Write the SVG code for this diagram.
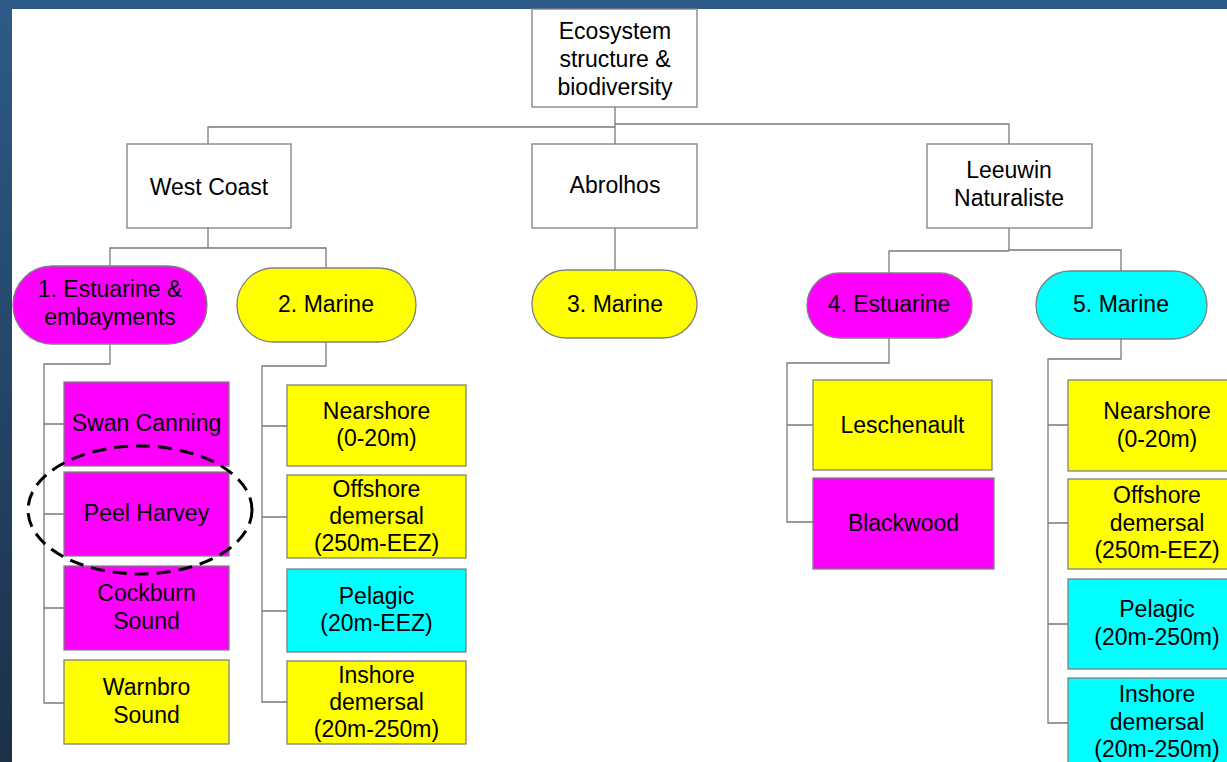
<svg xmlns="http://www.w3.org/2000/svg" width="1227" height="762" viewBox="0 0 1227 762">
<defs>
<linearGradient id="bg" x1="0" y1="0" x2="0" y2="1">
<stop offset="0" stop-color="#2d5b87"/>
<stop offset="1" stop-color="#1c3048"/>
</linearGradient>
<style>
.b{stroke:#808080;stroke-width:1.3}
.w{fill:#ffffff}
.m{fill:#ff00ff}
.y{fill:#ffff00}
.c{fill:#00ffff}
.t{font-family:"Liberation Sans",Arial,sans-serif;font-size:23px;fill:#000;text-anchor:middle}
.ln{fill:none;stroke:#7a7a7a;stroke-width:1.3}
</style>
</defs>
<rect x="0" y="0" width="1227" height="762" fill="url(#bg)"/>
<rect x="12" y="9" width="1215" height="753" fill="#ffffff"/>
<g id="connectors" class="ln">
<path d="M615,107 V144 M615,127 H208 V144 M615,124 H1009 V144"/>
<path d="M615,228 V270"/>
<path d="M208,228 V248 M110,266 V248 H326 V268"/>
<path d="M1009,228 V251 M889,273 V251 H1009 M1009,250 H1121 V271"/>
<path d="M110,344 V364 H44 V703 H64 M44,424 H64 M44,514 H64 M44,608 H64"/>
<path d="M326,342 V366 H262 V702 H287 M262,426 H287 M262,517 H287 M262,611 H287"/>
<path d="M889,338 V363 H787 V522 H813 M787,425 H813"/>
<path d="M1121,339 V359 H1048 V723 H1068 M1048,425 H1068 M1048,523 H1068 M1048,624 H1068"/>
</g>
<g id="root"><rect class="b w" x="532" y="9" width="165" height="98"/>
<text class="t" x="615" y="38.5">Ecosystem</text><text class="t" x="615" y="66.5">structure &amp;</text><text class="t" x="615" y="94.5">biodiversity</text></g>
<g id="westcoast"><rect class="b w" x="127" y="144" width="164" height="84"/><text class="t" x="209" y="195">West Coast</text></g>
<g id="abrolhos"><rect class="b w" x="532" y="144" width="165" height="84"/><text class="t" x="615" y="193">Abrolhos</text></g>
<g id="leeuwin"><rect class="b w" x="927" y="144" width="165" height="84"/><text class="t" x="1009" y="178">Leeuwin</text><text class="t" x="1009" y="206">Naturaliste</text></g>
<g id="p1"><rect class="b m" x="13" y="266" width="194" height="78" rx="39"/><text class="t" x="110" y="297">1. Estuarine &amp;</text><text class="t" x="110" y="325">embayments</text></g>
<g id="p2"><rect class="b y" x="237" y="268" width="179" height="74" rx="37"/><text class="t" x="326" y="312">2. Marine</text></g>
<g id="p3"><rect class="b y" x="532" y="270" width="165" height="68" rx="34"/><text class="t" x="615" y="312">3. Marine</text></g>
<g id="p4"><rect class="b m" x="807" y="273" width="165" height="65" rx="32.5"/><text class="t" x="889" y="312">4. Estuarine</text></g>
<g id="p5"><rect class="b c" x="1036" y="271" width="171" height="68" rx="34"/><text class="t" x="1121" y="312">5. Marine</text></g>
<g id="swan"><rect class="b m" x="64" y="382" width="165" height="84"/><text class="t" x="146.5" y="431">Swan Canning</text></g>
<g id="peel"><rect class="b m" x="64" y="472" width="165" height="84"/><text class="t" x="146.5" y="521">Peel Harvey</text></g>
<g id="cockburn"><rect class="b m" x="64" y="566" width="165" height="84"/><text class="t" x="146.5" y="601">Cockburn</text><text class="t" x="146.5" y="629">Sound</text></g>
<g id="warnbro"><rect class="b y" x="64" y="660" width="165" height="84"/><text class="t" x="146.5" y="695">Warnbro</text><text class="t" x="146.5" y="723">Sound</text></g>
<g id="wc-near"><rect class="b y" x="287" y="385" width="179" height="81"/><text class="t" x="376.5" y="419">Nearshore</text><text class="t" x="376.5" y="446">(0-20m)</text></g>
<g id="wc-off"><rect class="b y" x="287" y="475" width="179" height="83"/><text class="t" x="376.5" y="497">Offshore</text><text class="t" x="376.5" y="524">demersal</text><text class="t" x="376.5" y="551">(250m-EEZ)</text></g>
<g id="wc-pel"><rect class="b c" x="287" y="569" width="179" height="83"/><text class="t" x="376.5" y="604">Pelagic</text><text class="t" x="376.5" y="631">(20m-EEZ)</text></g>
<g id="wc-ins"><rect class="b y" x="287" y="661" width="179" height="83"/><text class="t" x="376.5" y="683">Inshore</text><text class="t" x="376.5" y="710">demersal</text><text class="t" x="376.5" y="737">(20m-250m)</text></g>
<g id="leschenault"><rect class="b y" x="813" y="380" width="179" height="90"/><text class="t" x="902.5" y="433">Leschenault</text></g>
<g id="blackwood"><rect class="b m" x="813" y="478" width="181" height="91"/><text class="t" x="903.5" y="531">Blackwood</text></g>
<g id="ln-near"><rect class="b y" x="1068" y="380" width="178" height="91"/><text class="t" x="1157" y="419">Nearshore</text><text class="t" x="1157" y="447">(0-20m)</text></g>
<g id="ln-off"><rect class="b y" x="1068" y="479" width="178" height="90"/><text class="t" x="1157" y="503">Offshore</text><text class="t" x="1157" y="531">demersal</text><text class="t" x="1157" y="558">(250m-EEZ)</text></g>
<g id="ln-pel"><rect class="b c" x="1068" y="579" width="178" height="90"/><text class="t" x="1157" y="617">Pelagic</text><text class="t" x="1157" y="645">(20m-250m)</text></g>
<g id="ln-ins"><rect class="b c" x="1068" y="678" width="178" height="95"/><text class="t" x="1157" y="702">Inshore</text><text class="t" x="1157" y="730">demersal</text><text class="t" x="1157" y="757">(20m-250m)</text></g>
<ellipse cx="140" cy="510" rx="112" ry="64" fill="none" stroke="#000" stroke-width="3" stroke-dasharray="14 8"/>
</svg>
